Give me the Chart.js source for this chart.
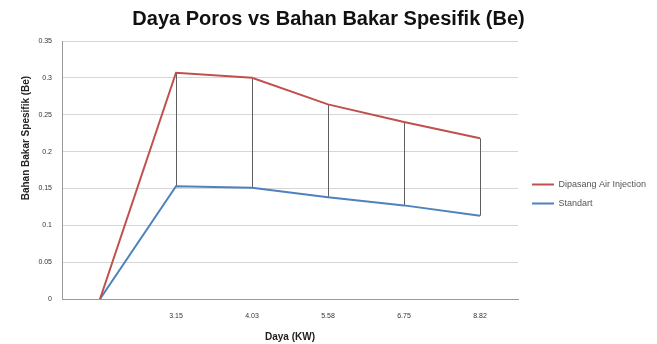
<!DOCTYPE html>
<html>
<head>
<meta charset="utf-8">
<script src="https://cdn.jsdelivr.net/npm/chart.js@4"></script>
<style>
  html, body { margin: 0; padding: 0; background: #fff; }
  #wrap { width: 657px; height: 344px; }
</style>
</head>
<body>
<div id="wrap"><canvas id="myChart" width="657" height="344"></canvas></div>
<script>
let daya = ['', '3.15', '4.03', '5.58', '6.75', '8.82']
let airInjection = [0, 0.307, 0.300, 0.264, 0.240, 0.218]
let standart = [0, 0.153, 0.151, 0.138, 0.127, 0.113]
let yTicks = [0, 0.05, 0.1, 0.15, 0.2, 0.25, 0.3, 0.35]

// vertical lines between the two series at each category (skip the empty first one)
let dropLines = {
    id: 'dropLines',
    beforeDatasetsDraw(chart) {
        let a = chart.getDatasetMeta(0).data
        let b = chart.getDatasetMeta(1).data
        let ctx = chart.ctx
        ctx.save()
        ctx.strokeStyle = '#5f5f5f'
        ctx.lineWidth = 1
        for (let i = 1; i < a.length; i++) {
            let x = Math.round(a[i].x) + 0.5
            ctx.beginPath()
            ctx.moveTo(x, a[i].y)
            ctx.lineTo(x, b[i].y)
            ctx.stroke()
        }
        ctx.restore()
    }
}

// keep the legend column a fixed width so the plot ends where the reference does,
// and nudge its items a little to the right
let legendWidth = {
    id: 'legendWidth',
    afterInit(chart) {
        let legend = chart.legend
        let fit = legend.fit
        let draw = legend.draw
        legend.fit = function () {
            fit.call(this)
            this.width = 139
        }
        legend.draw = function () {
            this.ctx.save()
            this.ctx.translate(4, 0)
            draw.call(this)
            this.ctx.restore()
        }
    }
}

Chart.defaults.font.family = '"Liberation Sans", Arial, sans-serif'
Chart.defaults.color = '#333'

let ctx = document.getElementById('myChart').getContext('2d')
let chart = new Chart(ctx, {
    type: 'line',
    data: {
        labels: daya,
        datasets: [{
            label: 'Dipasang Air Injection',
            borderColor: '#c0504d',
            backgroundColor: '#c0504d',
            borderWidth: 2,
            data: airInjection,
        }, {
            label: 'Standart',
            borderColor: '#4f81bd',
            backgroundColor: '#4f81bd',
            borderWidth: 2,
            data: standart,
        }]
    },
    plugins: [dropLines, legendWidth],
    options: {
        responsive: false,
        animation: false,
        layout: { padding: 0 },
        elements: { point: { radius: 0 }, line: { tension: 0 } },
        plugins: {
            title: {
                display: true,
                text: 'Daya Poros vs Bahan Bakar Spesifik (Be)',
                color: '#111',
                font: { size: 20, weight: 'bold' },
                padding: { top: 7, bottom: 10 }
            },
            legend: {
                position: 'right',
                title: { display: true, text: ' ', font: { size: 5 }, padding: { top: 38, bottom: 0 } },
                labels: {
                    usePointStyle: true,
                    pointStyle: 'line',
                    pointStyleWidth: 22,
                    boxWidth: 22,
                    padding: 10,
                    color: '#555',
                    font: { size: 9, lineHeight: 1 }
                }
            },
            tooltip: { enabled: false }
        },
        scales: {
            x: {
                offset: true,
                grid: { display: false, drawTicks: false },
                border: { color: '#999', width: 1 },
                ticks: { font: { size: 7 }, padding: 13, maxRotation: 0 },
                title: {
                    display: true,
                    text: 'Daya (KW)',
                    color: '#222',
                    font: { size: 10, weight: 'bold' },
                    padding: { top: 4, bottom: 1 }
                },
                afterFit(scale) { scale.height = 45 }
            },
            y: {
                min: 0,
                max: 0.35,
                afterBuildTicks(scale) { scale.ticks = yTicks.map(v => ({ value: v })) },
                grid: { color: '#d6d6d6', drawTicks: false },
                border: { color: '#999', width: 1 },
                ticks: { font: { size: 7 }, padding: 10, callback: v => String(v) },
                title: {
                    display: true,
                    // leading spaces push the text up, as in the reference
                    text: ' '.repeat(23) + 'Bahan Bakar Spesifik (Be)',
                    color: '#222',
                    font: { size: 10, weight: 'bold' },
                    padding: { top: 20, bottom: 0 }
                },
                afterFit(scale) { scale.width = 62 }
            }
        }
    }
})
</script>
</body>
</html>
